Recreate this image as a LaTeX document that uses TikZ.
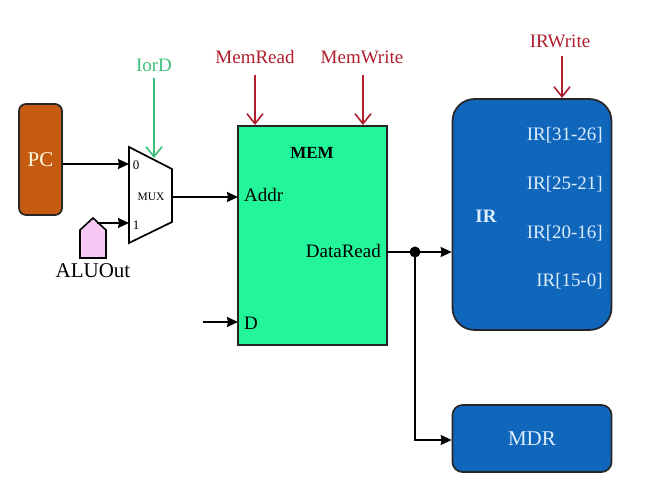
\documentclass[tikz,border=0pt]{standalone}
\usepackage{fontspec}
\setmainfont{Liberation Serif}
\usetikzlibrary{arrows.meta}
\definecolor{pcbrown}{HTML}{C55A11}
\definecolor{memgreen}{HTML}{22F59A}
\definecolor{irblue}{HTML}{0F66BA}
\definecolor{ctrlred}{HTML}{B01E2E}
\definecolor{ctrlgreen}{HTML}{3CC07A}
\definecolor{alupink}{HTML}{F6C8F4}
\definecolor{lighttxt}{HTML}{DDEEFF}
\tikzset{
  blk/.style={draw=black!85, line width=1.7pt},
  wire/.style={line width=1.8pt, -{Stealth[length=11pt,width=10pt,inset=1pt]}},
  ctrl/.style={line width=1.6pt, ctrlred, -{Straight Barb[length=10pt,width=16pt]}},
  ctrlg/.style={line width=1.6pt, ctrlgreen, -{Straight Barb[length=10pt,width=16pt]}},
  lbl/.style={font=\fontsize{19}{22}\selectfont, inner sep=0pt},
  irtxt/.style={font=\fontsize{19}{22}\selectfont, inner sep=0pt, text=lighttxt, anchor=east},
}
\begin{document}
\begin{tikzpicture}[x=1pt,y=-1pt]
\useasboundingbox (0,0) rectangle (649,502);
% PC
\node[blk, fill=pcbrown, rounded corners=7pt, minimum width=43pt, minimum height=111pt, inner sep=0pt,
  font=\fontsize{21}{22}\selectfont, text=white!88!yellow] (pc) at (40.5,159.5) {PC};
% MUX
\coordinate (mtl) at (129,147);
\coordinate (mbl) at (129,243);
\coordinate (mtr) at (172,169);
\coordinate (mbr) at (172,222);
\draw[line width=1.7pt, fill=white] (mtl) -- (mtr) -- (mbr) -- (mbl) -- cycle;
\coordinate (min0) at (129,164);
\coordinate (min1) at (129,223);
\coordinate (mout) at (172,197);
\coordinate (msel) at (154,158);
\node[font=\fontsize{11.5}{12}\selectfont, inner sep=0pt] (muxl) at (151,197) {MUX};
\node[font=\fontsize{13}{13}\selectfont, inner sep=0pt] (m0) at (136,165) {0};
\node[font=\fontsize{13}{13}\selectfont, inner sep=0pt] (m1) at (136,225) {1};
% ALUOut pentagon
\draw[line width=1.6pt, fill=alupink] (80,258) -- (80,230) -- (93,218) -- (106,230) -- (106,258) -- cycle;
\coordinate (alu) at (97,223);
\node[lbl, font=\fontsize{21}{22}\selectfont] (alulbl) at (93,271) {ALUOut};
% IorD
\node[lbl, text=ctrlgreen] (iord) at (154,65) {IorD};
\draw[ctrlg] (iord.south) ++(0,6) -- (msel);
% MEM
\node[blk, fill=memgreen, minimum width=149pt, minimum height=219pt, inner sep=0pt] (mem) at (312.5,235.5) {};
\node[font=\bfseries\fontsize{17}{20}\selectfont, inner sep=0pt] (memt) at (312,153) {MEM};
\node[lbl, anchor=west] (addr) at (244,195) {Addr};
\node[lbl, anchor=east] (dr) at (381,251) {DataRead};
\node[lbl, anchor=west] (dl) at (244,323) {D};
\coordinate (memaddr) at (238,197);
\coordinate (memd) at (238,322);
\coordinate (dsrc) at (203,322);
\coordinate (memout) at (387,252);
% control labels
\node[lbl, text=ctrlred] (mr) at (255,57) {MemRead};
\node[lbl, text=ctrlred] (mw) at (362,57) {MemWrite};
\node[lbl, text=ctrlred] (irw) at (560,41) {IRWrite};
\coordinate (mrin) at (255,125);
\coordinate (mwin) at (363,125);
\coordinate (irwin) at (562,98);
\draw[ctrl] (255,75) -- (mrin);
\draw[ctrl] (363,75) -- (mwin);
\draw[ctrl] (562,56) -- (irwin);
% IR
\node[blk, fill=irblue, rounded corners=22pt, minimum width=159pt, minimum height=231pt, inner sep=0pt] (ir) at (532,214.5) {};
\node[font=\bfseries\fontsize{19}{22}\selectfont, text=lighttxt, inner sep=0pt] (irt) at (486,216) {IR};
\node[irtxt] (ir1) at (603,135) {IR[31-26]};
\node[irtxt] (ir2) at (603,184) {IR[25-21]};
\node[irtxt] (ir3) at (603,233) {IR[20-16]};
\node[irtxt] (ir4) at (603,281) {IR[15-0]};
% MDR
\node[blk, fill=irblue, rounded corners=10pt, minimum width=159pt, minimum height=67pt, inner sep=0pt,
  font=\fontsize{21}{22}\selectfont, text=lighttxt] (mdr) at (532,438.5) {MDR};
% wires
\coordinate (junc) at (415,252);
\coordinate (bend) at (415,440);
\draw[wire] (pc.east |- min0) -- (min0);
\draw[wire] (alu) -- (min1);
\draw[wire] (mout) -- (memaddr);
\draw[wire] (dsrc) -- (memd);
\draw[line width=1.8pt] (memout) -- (junc);
\draw[wire] (junc) -- (ir.west |- junc);
\draw[wire] (junc) -- (bend) -- (mdr.west |- bend);
\fill (junc) circle (5.5pt);
\end{tikzpicture}
\end{document}
